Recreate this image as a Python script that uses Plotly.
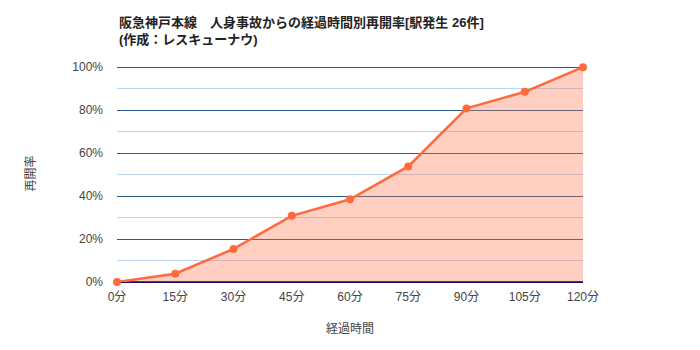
import plotly.graph_objects as go

minutes = [0, 15, 30, 45, 60, 75, 90, 105, 120]
labels = ["0分", "15分", "30分", "45分", "60分", "75分", "90分", "105分", "120分"]
rates = [0.0, 0.0385, 0.154, 0.308, 0.385, 0.538, 0.808, 0.885, 1.0]

fig = go.Figure()
fig.add_trace(go.Scatter(
    x=minutes, y=rates, mode="lines+markers",
    line=dict(color="#ff6a3d", width=2.5),
    marker=dict(color="#ff6a3d", size=8),
    fill="tozeroy", fillcolor="rgba(255,110,70,0.33)",
    hoverinfo="skip", cliponaxis=False,
))

font = "Liberation Sans, Arial, Noto Sans CJK JP, sans-serif"
fig.update_layout(
    width=700, height=350,
    margin=dict(l=117, r=117, t=65, b=68),
    paper_bgcolor="white", plot_bgcolor="white",
    showlegend=False,
    font=dict(family=font, size=12, color="#444"),
    xaxis=dict(
        tickmode="array", tickvals=minutes, ticktext=labels,
        range=[0, 120], showgrid=False, zeroline=False,
        showline=False, ticks="", ticklabelstandoff=6,
        tickfont=dict(size=12, color="#444"),
        title=dict(text="経過時間", font=dict(size=12, color="#444"), standoff=21),
    ),
    yaxis=dict(
        range=[0, 1.01], dtick=0.2, tickformat=".0%",
        showgrid=True, gridcolor="#2b5b8a", gridwidth=1,
        minor=dict(dtick=0.1, showgrid=True, gridcolor="#bcd5f7", gridwidth=1),
        zeroline=True, zerolinecolor="#1f0c66", zerolinewidth=1.5,
        ticks="", ticklabelstandoff=13,
        tickfont=dict(size=12, color="#444"),
        title=dict(text="再開率", font=dict(size=12, color="#444"), standoff=34),
    ),
)
fig.add_annotation(
    text="<b>阪急神戸本線　人身事故からの経過時間別再開率[駅発生 26件]<br>(作成：レスキューナウ)</b>",
    xref="paper", yref="paper", x=0, y=1 + (65 - 13) / 217,
    xanchor="left", yanchor="top", align="left", showarrow=False,
    font=dict(size=13, color="#222", family=font),
)

fig.write_html("out.html")
